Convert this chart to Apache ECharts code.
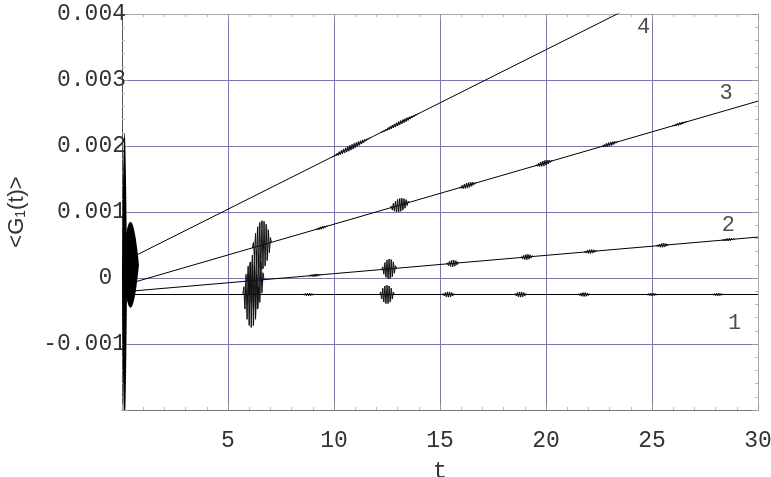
<!DOCTYPE html>
<html>
<head>
<meta charset="utf-8">
<title>G1(t)</title>
<script src="https://cdn.jsdelivr.net/npm/echarts@6/dist/echarts.min.js"></script>
<style>
  html, body { margin: 0; padding: 0; background: #fff; }
  #main { width: 771px; height: 477px; }
</style>
</head>
<body>
<div id="main"></div>
<script>
// 四条直线：起止点 (t, <G1(t)>)
var line1T = [0.4, 30], line1V = [-0.00025, -0.00025];
var line2T = [0.4, 30], line2V = [-0.0002, 0.00062];
var line3T = [0.4, 30], line3V = [-0.00008, 0.00268];
var line4T = [0.7, 30], line4V = [0.00035, 0.00507];

// 振荡包：所在曲线、中心 t、半宽、振幅
var burstLine = [1, 1, 1, 1, 1, 1, 1, 1,
                 2, 2, 2, 2, 2, 2, 2, 2,
                 3, 3, 3, 3, 3, 3, 3,
                 4, 4];
var burstT = [6.1, 8.8, 12.5, 15.4, 18.8, 21.8, 25.0, 28.1,
              6.3, 9.1, 12.6, 15.6, 19.1, 22.1, 25.5, 28.6,
              6.6, 9.4, 13.1, 16.3, 19.9, 23.0, 26.3,
              10.8, 13.1];
var burstW = [0.4, 0.3, 0.35, 0.3, 0.3, 0.3, 0.3, 0.3,
              0.4, 0.3, 0.35, 0.3, 0.3, 0.3, 0.3, 0.3,
              0.45, 0.3, 0.45, 0.4, 0.4, 0.4, 0.35,
              0.9, 0.9];
var burstA = [0.0005, 0.00002, 0.00014, 0.00004, 0.00004, 0.00003, 0.00002, 0.00002,
              0.00045, 0.00002, 0.00015, 0.00005, 0.00004, 0.00003, 0.00003, 0.00002,
              0.00037, 0.00002, 0.0001, 0.00004, 0.00004, 0.00003, 0.00002,
              0.00004, 0.00003];

// t≈0 处的初始瞬态
var transT = [0.12, 0.4];
var transV = [0, 0.0002];
var transW = [0.12, 0.4];
var transA = [0.0022, 0.00065];

// 曲线编号
var labelText = ['1', '2', '3', '4'];
var labelT = [28.9, 28.6, 28.5, 24.6];
var labelV = [-0.00068, 0.0008, 0.0028, 0.0038];

var lineT = [line1T, line2T, line3T, line4T];
var lineV = [line1V, line2V, line3V, line4V];

function zip(a, b) {
    var out = [];
    for (var i = 0; i < a.length; i++) out.push([a[i], b[i]]);
    return out;
}

// 曲线 idx 在 t 处的值
function onLine(idx, t) {
    var T = lineT[idx - 1], V = lineV[idx - 1];
    return V[0] + (V[1] - V[0]) * (t - T[0]) / (T[1] - T[0]);
}

function envelope(api, t, w, a, center) {
    var top = [], bot = [];
    for (var j = 0; j <= 20; j++) {
        var f = -1 + j / 10;
        var e = 1 - f * f;
        var c = center(t + f * w);
        top.push(api.coord([t + f * w, c + a * e]));
        bot.unshift(api.coord([t + f * w, c - a * e]));
    }
    return top.concat(bot);
}

function renderBurst(params, api) {
    var idx = api.value(0), t = api.value(1), w = api.value(2), a = api.value(3);
    var center = function (x) { return onLine(idx, x); };
    var n = Math.max(10, Math.round(w * 40)), pts = [];
    for (var i = 0; i <= n; i++) {
        var f = -1 + 2 * i / n;
        var s = i % 2 ? 1 : -1;
        pts.push(api.coord([t + f * w, center(t + f * w) + s * a * (1 - f * f)]));
    }
    return {
        type: 'group',
        children: [
            { type: 'polygon', shape: { points: envelope(api, t, w, a, center) },
              style: { fill: '#000', opacity: 0.15 } },
            { type: 'polyline', shape: { points: pts },
              style: { stroke: '#111', lineWidth: 1, fill: null } }
        ]
    };
}

function renderTrans(params, api) {
    var v = api.value(1);
    return {
        type: 'polygon',
        shape: { points: envelope(api, api.value(0), api.value(2), api.value(3), function () { return v; }) },
        style: { fill: '#000' }
    };
}

var burstData = [], transData = [];
for (var i = 0; i < burstT.length; i++) burstData.push([burstLine[i], burstT[i], burstW[i], burstA[i]]);
for (var k = 0; k < transT.length; k++) transData.push([transT[k], transV[k], transW[k], transA[k]]);

var labelFont = { fontFamily: 'Liberation Mono', fontSize: 23, color: '#333' };
var lineStyle = { color: '#000', width: 1 };
var frameTick = { show: true, inside: true, length: 6, lineStyle: { color: '#999' } };
var frameMinor = { show: true, splitNumber: 5, length: 3, lineStyle: { color: '#bbb' } };
var gridLine = { show: true, showMinLine: false, showMaxLine: false, lineStyle: { color: '#7878ac', width: 1 } };

var myChart = echarts.init(document.getElementById('main'));
var option = {
    backgroundColor: '#fff',
    animation: false,
    grid: { left: 122, width: 636, top: 14, height: 396, containLabel: false, outerBoundsMode: 'none' },
    xAxis: [{
        type: 'value', min: 0, max: 30, interval: 5,
        name: 't', nameLocation: 'middle', nameGap: 50,
        nameTextStyle: { fontFamily: 'Liberation Mono', fontSize: 23, color: '#333' },
        axisLine: { onZero: false, lineStyle: { color: '#777' } },
        axisTick: frameTick, minorTick: frameMinor,
        axisLabel: Object.assign({ margin: 19, formatter: function (v) { return v === 0 ? '' : v; } }, labelFont),
        splitLine: gridLine
    }, {
        type: 'value', min: 0, max: 30, interval: 5, position: 'top',
        axisLine: { show: true, onZero: false, lineStyle: { color: '#aaa' } },
        axisTick: frameTick, minorTick: frameMinor,
        axisLabel: { show: false }, splitLine: { show: false }
    }],
    yAxis: [{
        type: 'value', min: -0.002, max: 0.004, interval: 0.001,
        name: '<G{s|1}(t)>', nameLocation: 'middle', nameGap: 94, nameRotate: 90,
        nameTextStyle: {
            fontFamily: 'Liberation Sans', fontSize: 22, color: '#333',
            rich: { s: { fontFamily: 'Liberation Sans', fontSize: 14, color: '#333', verticalAlign: 'bottom', padding: [8, 0, 0, 0] } }
        },
        axisLine: { show: true, onZero: false, lineStyle: { color: '#555' } },
        axisTick: frameTick, minorTick: frameMinor,
        axisLabel: Object.assign({
            margin: -4,
            formatter: function (v) {
                if (Math.abs(v + 0.002) < 1e-9) return '';
                if (Math.abs(v) < 1e-9) return '0 ';
                return v.toFixed(3);
            }
        }, labelFont),
        splitLine: gridLine
    }, {
        type: 'value', min: -0.002, max: 0.004, interval: 0.001, position: 'right',
        axisLine: { show: true, onZero: false, lineStyle: { color: '#aaa' } },
        axisTick: frameTick, minorTick: frameMinor,
        axisLabel: { show: false }, splitLine: { show: false }
    }],
    series: [
        { type: 'line', data: zip(line1T, line1V), showSymbol: false, lineStyle: lineStyle, z: 3 },
        { type: 'line', data: zip(line2T, line2V), showSymbol: false, lineStyle: lineStyle, z: 3 },
        { type: 'line', data: zip(line3T, line3V), showSymbol: false, lineStyle: lineStyle, z: 3 },
        { type: 'line', data: zip(line4T, line4V), showSymbol: false, lineStyle: lineStyle, z: 3 },
        { type: 'custom', renderItem: renderBurst, data: burstData, clip: true, encode: { x: 1 }, z: 4 },
        { type: 'custom', renderItem: renderTrans, data: transData, clip: true, encode: { x: 0, y: 1 }, z: 4 },
        {
            type: 'scatter', data: zip(labelT, labelV), symbolSize: 0, z: 5,
            label: {
                show: true, position: 'inside',
                fontFamily: 'Liberation Mono', fontSize: 22, color: '#222',
                formatter: function (p) { return labelText[p.dataIndex]; }
            }
        }
    ]
};
myChart.setOption(option);
</script>
</body>
</html>
